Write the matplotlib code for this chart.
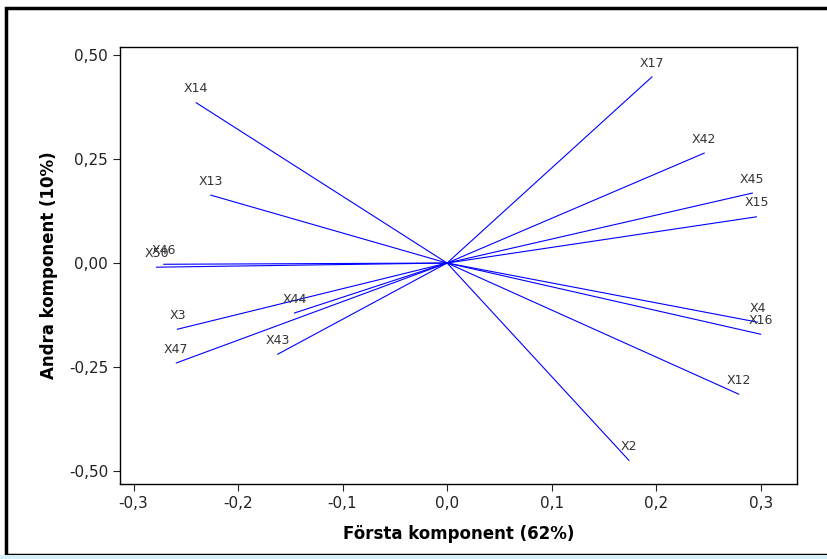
import matplotlib
matplotlib.use("Agg")
import matplotlib.pyplot as plt
from matplotlib.patches import Rectangle
from matplotlib.ticker import FuncFormatter

# loadings: (first component, second component)
names = ["X14", "X17", "X42", "X13", "X45", "X15", "X46", "X50", "X44",
         "X3", "X47", "X43", "X4", "X16", "X12", "X2"]
pc1 = [-0.240, 0.196, 0.246, -0.226, 0.292, 0.296, -0.271, -0.278, -0.146,
       -0.258, -0.259, -0.162, 0.297, 0.300, 0.279, 0.174]
pc2 = [0.385, 0.447, 0.264, 0.163, 0.168, 0.111, -0.003, -0.010, -0.120,
       -0.159, -0.240, -0.219, -0.142, -0.171, -0.315, -0.474]

xticks = [-0.3, -0.2, -0.1, 0.0, 0.1, 0.2, 0.3]
yticks = [-0.50, -0.25, 0.00, 0.25, 0.50]

plt.rcParams['font.family'] = ['DejaVu Sans']

fig = plt.figure(figsize=(8.27, 5.59), dpi=100)
ax = fig.add_axes([0.145, 0.134, 0.819, 0.782])

for n, x, y in zip(names, pc1, pc2):
    ax.plot([0, x], [0, y], color='#0000ff', lw=0.8)
    ax.annotate(n, (x, y), xytext=(0, 10), textcoords='offset points',
                ha='center', va='center', fontsize=9, color='#333333')

ax.set_xlim(-0.313, 0.335)
ax.set_ylim(-0.531, 0.519)
ax.set_xticks(xticks)
ax.set_yticks(yticks)
ax.xaxis.set_major_formatter(FuncFormatter(lambda v, p: f"{v:.1f}".replace('.', ',')))
ax.yaxis.set_major_formatter(FuncFormatter(lambda v, p: f"{v:.2f}".replace('.', ',')))
ax.tick_params(labelsize=11, length=5, width=0.8, colors='#222222')
ax.set_xlabel('Första komponent (62%)', fontsize=12, fontweight='bold', labelpad=10)
ax.set_ylabel('Andra komponent (10%)', fontsize=12, fontweight='bold', labelpad=8)
for s in ax.spines.values():
    s.set_linewidth(1.0)

# outer frame
fig.patches.append(Rectangle((6 / 827, 4 / 559), 1.0, 1 - 12 / 559,
                             transform=fig.transFigure, fill=False,
                             edgecolor='black', lw=2.5))
fig.patches.append(Rectangle((0, 0), 1.0, 4 / 559, transform=fig.transFigure,
                             color='#d6eef8', lw=0))

fig.savefig('out.png', dpi=100)
